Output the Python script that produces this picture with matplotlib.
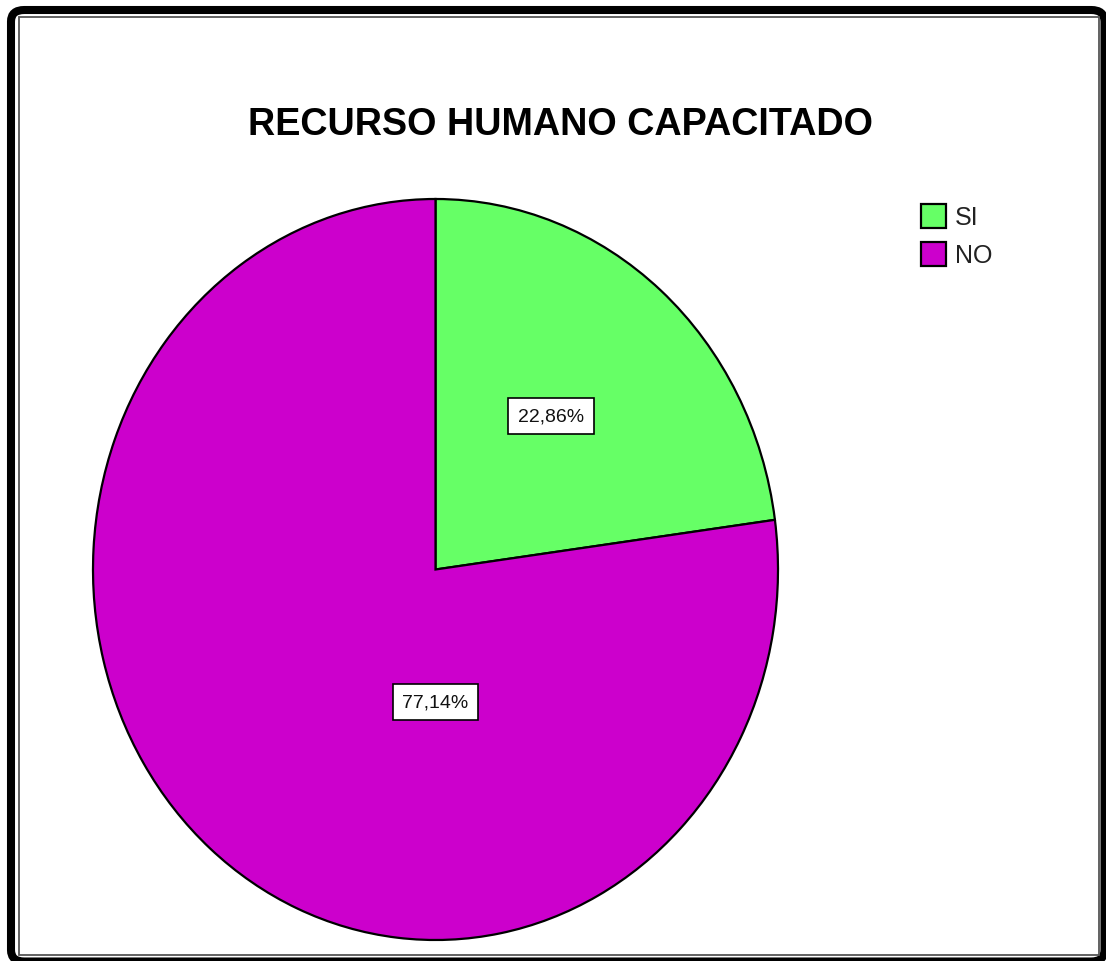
import matplotlib
matplotlib.use("Agg")
import matplotlib.pyplot as plt
from matplotlib.patches import Rectangle, FancyBboxPatch

# Data
categories = ["SI", "NO"]
percentages = [22.86, 77.14]
colors = ["#66FF66", "#CC00CC"]
title = "RECURSO HUMANO CAPACITADO"

W, H = 1106, 962
plt.rcParams["font.family"] = ["Liberation Sans", "DejaVu Sans"]

fig = plt.figure(figsize=(W / 100, H / 100), dpi=100)
fig.patch.set_facecolor("white")


def fx(px):
    return px / W


def fy(py):
    return 1 - py / H


# Outer heavy frame with a rounded top-left corner
fig.patches.append(FancyBboxPatch((fx(11), fy(962.5)), fx(1104.5) - fx(11), fy(11) - fy(962.5),
                                  boxstyle="round,pad=0,rounding_size=0.012",
                                  transform=fig.transFigure, fill=False,
                                  edgecolor="black", linewidth=5.8))
# Inner thin frame
fig.patches.append(Rectangle((fx(18.5), fy(956)), fx(1098.5) - fx(18.5), fy(17.5) - fy(956),
                             transform=fig.transFigure, fill=False,
                             edgecolor="#555555", linewidth=1.3))

# Pie drawn in a stretched axes so it appears elliptical
ax = fig.add_axes([fx(93), fy(941), fx(778) - fx(93), fy(200) - fy(941)])
wedges, _ = ax.pie(percentages, colors=colors, startangle=90, counterclock=False,
                   wedgeprops=dict(edgecolor="black", linewidth=1.6))
ax.set_aspect("auto")
ax.set_xlim(-1, 1)
ax.set_ylim(-1, 1)
ax.axis("off")

label_pos = [(0.337, 0.414), (0.0, -0.358)]
for (x, y), p in zip(label_pos, percentages):
    ax.text(x, y, f"{p:.2f}%".replace(".", ","), ha="center", va="center",
            fontsize=14, color="#111111",
            bbox=dict(boxstyle="square,pad=0.5", facecolor="white",
                      edgecolor="black", linewidth=1.2))

fig.text(fx(560), fy(125), title, ha="center", va="center",
         fontsize=27.2, fontweight="bold", color="black")

# Legend
leg = fig.legend(wedges, categories, loc="upper left",
                 bbox_to_anchor=(fx(921), fy(205)), frameon=False,
                 fontsize=18, handlelength=1.0, handleheight=1.08,
                 handletextpad=0.35, labelspacing=0.5, borderpad=0,
                 borderaxespad=0)
for t in leg.get_texts():
    t.set_color("#222222")

fig.savefig("out.png", dpi=100, facecolor="white")
